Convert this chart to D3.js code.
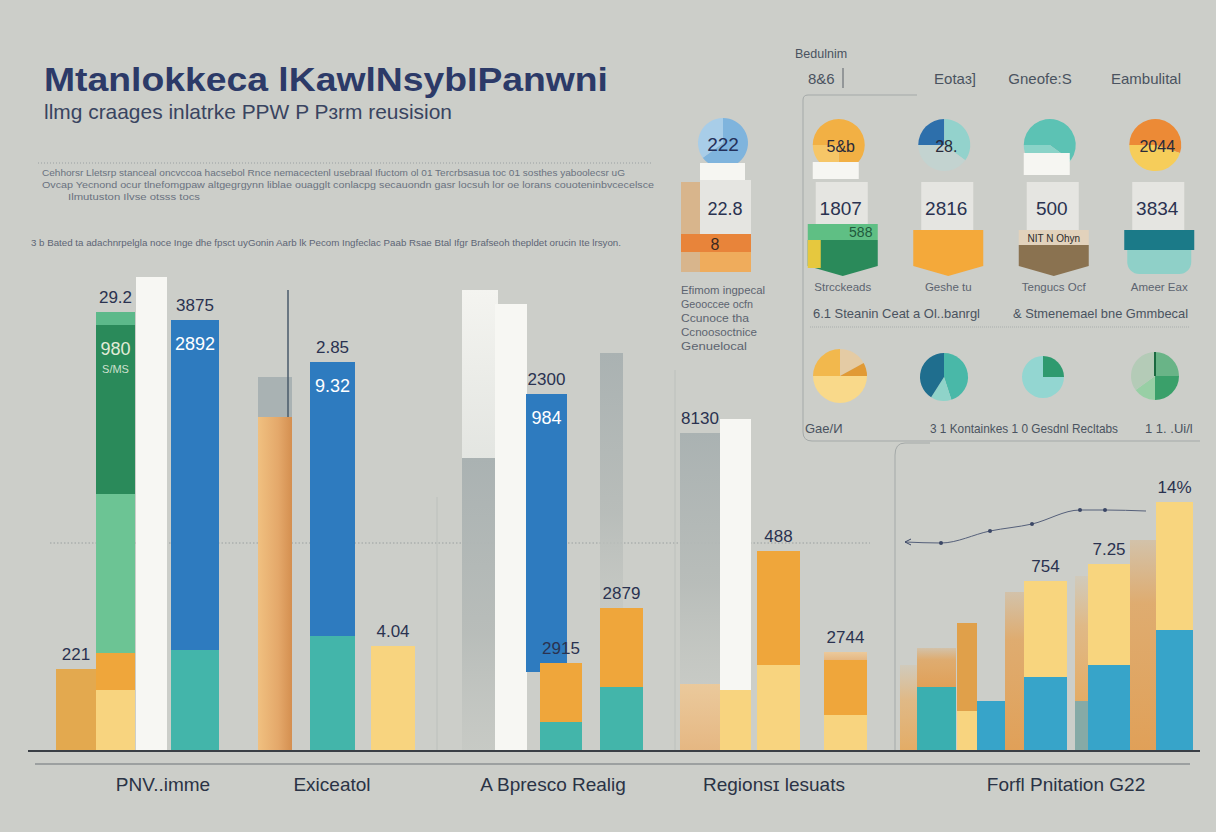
<!DOCTYPE html>
<html><head><meta charset="utf-8">
<script src="https://cdn.jsdelivr.net/npm/d3@7"></script>
<style>
html,body{margin:0;padding:0;background:#cccec9;}
svg{display:block;font-family:"Liberation Sans",Arial,sans-serif;}
</style></head>
<body>
<svg id="chart" width="1216" height="832"></svg>
<script>
// ---------------- DATA ----------------
const titleText = "Mtanlokkeca lKawlNsybIPanwni";
const subtitleText = "llmg craages inlatrke PPW P P\u025Crm reusision";
const paragraphLines = [
  "Cehhorsr Lletsrp stanceal oncvccoa hacsebol Rnce nemacectenl usebraal Ifuctom ol 01 Tercrbsasua toc 01 sosthes yaboolecsr uG",
  "Ovcap Yecnond ocur tlnefomgpaw altgegrgynn liblae ouagglt conlacpg secauondn gasr locsuh lor oe lorans couoteninbvcecelsce",
  "Ilmutuston Ilvse otsss tocs"
];
const noteLine = "3 b Bated ta adachnrpelgla noce Inge dhe fpsct uyGonin Aarb lk Pecom Ingfeclac Paab Rsae Btal Ifgr Brafseoh thepldet orucin Ite lrsyon.";
const groupLabels = ["PNV..imme", "Exiceatol", "A Bpresco Realig", "Regions\u026A lesuats", "Forfl Pnitation G22"];
const groupLabelPos = [16.3, 33.2, 55.3, 77.4, 106.6];

// bars: horizontal span in chart units, stacked segment values (bottom -> top), series of each segment
const barSpans = [
  [5.6,9.6],[9.6,13.5],[13.6,16.7],[17.1,21.9],[25.8,29.2],[31.0,35.5],[37.1,41.5],
  [46.2,49.8],[49.5,52.7],[52.6,56.7],[54.0,58.2],[60.0,62.3],[60.0,64.3],
  [68.0,72.0],[72.0,75.1],[75.7,80.0],[82.4,86.7],
  [90.0,91.7],[91.7,95.6],[95.7,97.7],[97.7,100.5],[100.5,102.4],[102.4,106.7],
  [107.5,108.8],[108.8,113.0],[113.0,115.6],[115.6,119.3]
];
const barValues = [
  [82],[61,37,159,169,13],[474],[101,330],[334,40],[115,274],[105],
  [293,168],[447],[79,278],[29,59],[131,267],[64,79],
  [67,251],[61,271],[86,114],[36,55,8],
  [86],[64,39],[40,88],[50],[159],[74,96],
  [50,125],[86,101],[211],[121,128]
];
const barSeries = [
  ["A"],["Y","B","GL","GD","GM"],["W"],["T","BL"],["TAN","GR"],["T","BL"],["Y"],
  ["GF","WF"],["W"],["-","BL"],["T","B"],["-","GF"],["T","B"],
  ["OP","GF"],["Y","W"],["Y","B"],["Y","B","OP"],
  ["OF"],["T2","TF"],["Y","OD"],["B2"],["TF"],["B2","Y2"],
  ["GT","OF"],["B2","Y2"],["TF"],["B2","Y2"]
];
const barTopLabels = ["221","29.2",null,"3875",null,"2.85","4.04",
  null,null,"2300","2915",null,"2879","8130",null,"488","2744",
  null,null,null,null,null,"754",null,"7.25",null,"14%"];
const barInnerLabels = [null,"980",null,"2892",null,"9.32",null,
  null,null,"984",null,null,null,null,null,null,null,
  null,null,null,null,null,null,null,null,null,null];
const greenSubLabel = "S/MS";

// trend line (right group)
const trendX = [90.5, 94.1, 99.0, 103.2, 108.0, 110.5, 114.6];
const trendY = [209, 208, 220, 227, 241, 241, 240];
const gridValue = 208;

// cards (top right)
const cardHeaders = ["Eota\u025C]", "Gneofe:S", "Eambulital"];
const cardNames = ["Strcckeads", "Geshe tu", "Tengucs Ocf", "Ameer Eax"];
const cardValues = ["1807", "2816", "500", "3834"];
const cardBadges = ["5&b", "28.", "", "2044"];
const cardBadgeSlices = [[75,25],[25,35,40],[60,40],[55,45]];
const firstCardBadge = "222", firstCardValue = "22.8", firstCardBand = "8";
const firstCardSlices = [65,35];
const sideNotes = ["Efimom ingpecal","Geooccee ocfn","Ccunoce tha","Ccnoosoctnice","Genuelocal"];
const cardFooters = ["6.1   Steanin Ceat a Ol..banrgl", "& Stmenemael bne Gmmbecal"];

// pies
const pieValues = [[17,8,50,25],[45,14,41],[25,75],[25,25,15,35]];
const pieFooters = ["Gae/\u0418", "3 1 Kontainkes 1 0 Gesdnl Recltabs", "1 1. .Ui/l"];

// ---------------- STYLE ----------------
const seriesColor = {
  A:"#e3a94f", Y:"#f8d47f", B:"#efa63b", GL:"#6cc494", GD:"#2a8a5a", GM:"#5cb98a",
  W:"#f7f7f3", T:"#43b5aa", BL:"#2e7bbf", TAN:"url(#gTan)", GR:"#a9b2b3",
  GF:"url(#gGrey)", WF:"url(#gWhite)", OP:"url(#gOrangePale)", OF:"url(#gOrangeFade)",
  T2:"#3aafb0", TF:"url(#gTanFade)", OD:"#e0a04a", B2:"#37a4c9", Y2:"#f8d57e",
  GT:"#86aaa6", "-":"none"
};

const W = 1216, H = 832;
const svg = d3.select("#chart");
const x = d3.scaleLinear().domain([0, 121.6]).range([0, W]);
const y = d3.scaleLinear().domain([0, 500]).range([751, 251]);

// gradients
const defs = svg.append("defs");
function grad(id, stops){
  const g = defs.append("linearGradient").attr("id", id).attr("x1",0).attr("y1",0).attr("x2",0).attr("y2",1);
  stops.forEach(s => g.append("stop").attr("offset", s[0]).attr("stop-color", s[1]).attr("stop-opacity", s[2]));
}
function hgrad(id, stops){
  const g = defs.append("linearGradient").attr("id", id).attr("x1",0).attr("y1",0).attr("x2",1).attr("y2",0);
  stops.forEach(s => g.append("stop").attr("offset", s[0]).attr("stop-color", s[1]).attr("stop-opacity", s[2]));
}
hgrad("gTan", [[0,"#f0c080",1],[0.6,"#e4a86a",1],[1,"#d48f50",1]]);
grad("gGrey", [[0,"#aab2b2",1],[0.6,"#b6bbb8",0.9],[1,"#c4c7c2",0.6]]);
grad("gWhite", [[0,"#f4f4f0",1],[1,"#e6e8e4",0.9]]);
grad("gOrangePale", [[0,"#f2c890",0.8],[1,"#e8b47a",0.9]]);
grad("gOrangeFade", [[0,"#e8b470",0.15],[0.4,"#e8b06a",0.7],[1,"#e6a85a",0.9]]);
grad("gTanFade", [[0,"#e2a660",0.3],[0.3,"#e2a660",0.85],[1,"#e0a058",1]]);

// ---------------- HEADER ----------------
svg.append("text").attr("x",44).attr("y",91).attr("font-size",33).attr("font-weight","bold")
  .attr("fill","#2c3a68").attr("textLength",564).attr("lengthAdjust","spacingAndGlyphs").text(titleText);
svg.append("text").attr("x",44).attr("y",119).attr("font-size",21).attr("fill","#394460")
  .attr("textLength",408).attr("lengthAdjust","spacingAndGlyphs").text(subtitleText);
svg.append("line").attr("x1",38).attr("x2",652).attr("y1",163).attr("y2",163)
  .attr("stroke","#9aa0a2").attr("stroke-dasharray","1,2");
const paraX = [42,42,68], paraY = [176,188,200], paraL = [583,612,132];
paragraphLines.forEach((t,i)=>{
  svg.append("text").attr("x",paraX[i]).attr("y",paraY[i]).attr("font-size",9.5).attr("fill","#6a7280")
    .attr("textLength",paraL[i]).attr("lengthAdjust","spacingAndGlyphs").text(t);
});
svg.append("text").attr("x",31).attr("y",246).attr("font-size",9).attr("fill","#5d6575")
  .attr("textLength",590).attr("lengthAdjust","spacingAndGlyphs").text(noteLine);

// ---------------- GRID / AXIS ----------------
svg.append("line").attr("x1",50).attr("x2",870).attr("y1",y(gridValue)).attr("y2",y(gridValue))
  .attr("stroke","#9aa0a0").attr("stroke-dasharray","1.5,2");
svg.append("line").attr("x1",437).attr("x2",437).attr("y1",497).attr("y2",751).attr("stroke","#bcc0bc");
svg.append("line").attr("x1",675).attr("x2",675).attr("y1",370).attr("y2",751).attr("stroke","#bcc0bc");

// right panels
svg.append("path").attr("d","M917,95 L808,95 Q803,95 803,100 L803,432 Q803,441 812,441 L1200,441")
  .attr("fill","none").attr("stroke","#a4a9a8").attr("stroke-width",1);
svg.append("path").attr("d","M930,443 L905,443 Q895,443 895,455 L895,751")
  .attr("fill","none").attr("stroke","#a4a9a8").attr("stroke-width",1);

// ---------------- BARS ----------------
const gBars = svg.append("g");
barValues.forEach((vals,i)=>{
  const [a,b] = barSpans[i];
  let acc = 0;
  vals.forEach((v,j)=>{
    const s = barSeries[i][j];
    if (s !== "-") {
      gBars.append("rect").attr("x", x(a)).attr("width", x(b)-x(a))
        .attr("y", y(acc+v)).attr("height", y(acc)-y(acc+v))
        .attr("fill", seriesColor[s]);
    }
    acc += v;
  });
  const cx = (x(a)+x(b))/2;
  if (barTopLabels[i]) {
    gBars.append("text").attr("x",cx).attr("y",y(acc)-9).attr("text-anchor","middle")
      .attr("font-size",17).attr("fill","#2a3250").text(barTopLabels[i]);
  }
  if (barInnerLabels[i]) {
    const top = i===1 ? acc - vals[4] : acc;
    gBars.append("text").attr("x",cx).attr("y",y(top)+30).attr("text-anchor","middle")
      .attr("font-size",18).attr("fill", i===1 ? "#e2ecd8" : "#ffffff").text(barInnerLabels[i]);
    if (i===1) gBars.append("text").attr("x",cx).attr("y",y(top)+48).attr("text-anchor","middle")
      .attr("font-size",11).attr("fill","#cfe0cf").text(greenSubLabel);
  }
});
// thin spike near tan bar
svg.append("line").attr("x1",x(28.8)).attr("x2",x(28.8)).attr("y1",y(461)).attr("y2",y(334))
  .attr("stroke","#4a5a6a").attr("stroke-width",1.5);

// trend line
const linePts = trendX.map((v,i)=>[x(v), y(trendY[i])]);
svg.append("path").attr("d", d3.line().curve(d3.curveMonotoneX)(linePts))
  .attr("fill","none").attr("stroke","#55607a").attr("stroke-width",1);
svg.selectAll(".tp").data(linePts.slice(1,-1)).join("circle").attr("cx",d=>d[0]).attr("cy",d=>d[1])
  .attr("r",2).attr("fill","#3b4766");
const p0 = linePts[0];
svg.append("path").attr("d",`M${p0[0]+6},${p0[1]-3} L${p0[0]},${p0[1]} L${p0[0]+6},${p0[1]+3}`)
  .attr("fill","none").attr("stroke","#3b4766");

// baseline axis
const axisG = svg.append("g").attr("transform","translate(0,751)")
  .call(d3.axisBottom(x).tickValues([]).tickSizeOuter(0));
axisG.select(".domain").attr("d",`M28,0H1200`).attr("stroke","#3a3f45").attr("stroke-width",2);
svg.append("line").attr("x1",35).attr("x2",1190).attr("y1",764).attr("y2",764).attr("stroke","#6d7378").attr("stroke-width",1.2);
groupLabels.forEach((t,i)=>{
  svg.append("text").attr("x",x(groupLabelPos[i])).attr("y",791).attr("text-anchor","middle")
    .attr("font-size",19).attr("fill","#2a3345").text(t);
});

// ---------------- CARDS ----------------
svg.append("text").attr("x",795).attr("y",58).attr("font-size",12.5).attr("fill","#4a5360").text("Bedulnim");
svg.append("text").attr("x",808).attr("y",84).attr("font-size",15).attr("fill","#4a5360").text("8&6");
svg.append("line").attr("x1",843).attr("x2",843).attr("y1",68).attr("y2",88).attr("stroke","#5a6068");
const cardBand = d3.scaleBand().domain(cardNames).range([790,1212]);
const headerX = [955, 1040, 1146];
cardHeaders.forEach((t,i)=>svg.append("text").attr("x",headerX[i]).attr("y",84).attr("text-anchor","middle")
  .attr("font-size",15).attr("fill","#4a5360").text(t));

const arc = d3.arc();
const pie = d3.pie().sort(null);
const badgeColors = [["#f2b044","#f6c667"],["#2d6fab","#93d2cc","#c3d3d0"],["#5cc2b4","#8ad3c8"],["#ec8a36","#f6cd5a"]];
const bandColors = [["#5fbf84","#2a8a5a"],["#f4a93a","#f4a93a"],["#e2d2bc","#8a7250"],["#1b7a88","#8fd0c8"]];

// first card
(function(){
  const cx = 723;
  svg.append("rect").attr("x",681).attr("y",182).attr("width",20).attr("height",90).attr("fill","#d8b58c");
  const g = svg.append("g").attr("transform",`translate(${cx},143)`);
  g.selectAll("path").data(pie(firstCardSlices)).join("path")
    .attr("d", d=>arc({innerRadius:0,outerRadius:25,startAngle:d.startAngle,endAngle:d.endAngle}))
    .attr("fill",(d,i)=>["#7fb4dd","#a8cde8"][i]);
  svg.append("text").attr("x",cx).attr("y",151).attr("text-anchor","middle").attr("font-size",19).attr("fill","#23305a").text(firstCardBadge);
  svg.append("rect").attr("x",700).attr("y",163).attr("width",45).attr("height",18).attr("fill","#f6f6f2");
  svg.append("rect").attr("x",700).attr("y",180).attr("width",51).attr("height",54).attr("fill","#e5e5e1");
  svg.append("text").attr("x",725).attr("y",215).attr("text-anchor","middle").attr("font-size",18).attr("fill","#2a3250").text(firstCardValue);
  svg.append("rect").attr("x",681).attr("y",234).attr("width",70).attr("height",18).attr("fill","#e8843a");
  svg.append("text").attr("x",715).attr("y",250).attr("text-anchor","middle").attr("font-size",16).attr("fill","#3a2a20").text(firstCardBand);
  svg.append("rect").attr("x",700).attr("y",252).attr("width",51).attr("height",20).attr("fill","#efac5c");
  sideNotes.forEach((t,i)=>svg.append("text").attr("x",681).attr("y",294+i*14).attr("font-size",11)
    .attr("fill","#5c6470").attr("textLength",[84,72,68,76,66][i]).attr("lengthAdjust","spacingAndGlyphs").text(t));
})();

cardNames.forEach((name,i)=>{
  const cx = cardBand(name) + cardBand.bandwidth()/2;
  const g = svg.append("g").attr("transform",`translate(${cx-4},145)`);
  g.selectAll("path").data(pie(cardBadgeSlices[i])).join("path")
    .attr("d", d=>arc({innerRadius:0,outerRadius:26,startAngle:d.startAngle-Math.PI/2,endAngle:d.endAngle-Math.PI/2}))
    .attr("fill",(d,j)=>badgeColors[i][j]);
  if (cardBadges[i]) svg.append("text").attr("x",cx-2).attr("y",152).attr("text-anchor","middle")
    .attr("font-size",16).attr("fill","#2a2a3a").text(cardBadges[i]);
  if (i===0 || i===2) {
    svg.append("rect").attr("x",cx-30).attr("y",i===0?162:153).attr("width",46).attr("height",i===0?17:22).attr("fill","#f6f6f2");
  }
  // grey value box
  svg.append("rect").attr("x",cx-27).attr("y",182).attr("width",52).attr("height",48).attr("fill","#e5e5e1");
  svg.append("text").attr("x",cx-2).attr("y",215).attr("text-anchor","middle").attr("font-size",19).attr("fill","#2a3250").text(cardValues[i]);
  // band + shield
  const L = cx-35, R = cx+35;
  if (i===3) {
    svg.append("rect").attr("x",L).attr("y",230).attr("width",R-L).attr("height",20).attr("fill",bandColors[i][0]);
    svg.append("path").attr("d",`M${L+3},250 H${R-3} V262 A12,12 0 0 1 ${R-15},274 H${L+15} A12,12 0 0 1 ${L+3},262 Z`).attr("fill",bandColors[i][1]);
  } else {
    svg.append("rect").attr("x",L).attr("y",i===0?224:230).attr("width",R-L).attr("height",i===0?16:15).attr("fill",bandColors[i][0]);
    svg.append("path").attr("d",`M${L},${i===0?240:245} H${R} V266 L${cx},276 L${L},266 Z`).attr("fill",bandColors[i][1]);
    if (i===0) {
      svg.append("rect").attr("x",L).attr("y",240).attr("width",13).attr("height",28).attr("fill","#e6c83e");
      svg.append("text").attr("x",cx+18).attr("y",237).attr("text-anchor","middle").attr("font-size",14).attr("fill","#1f5a3c").text("588");
    }
    if (i===2) svg.append("text").attr("x",cx).attr("y",242).attr("text-anchor","middle").attr("font-size",10).attr("fill","#2a2a2a").text("NIT N Ohyn");
  }
  svg.append("text").attr("x",cx).attr("y",291).attr("text-anchor","middle").attr("font-size",11.5)
    .attr("fill","#5c6470").text(name);
});
svg.append("text").attr("x",813).attr("y",318).attr("font-size",13).attr("fill","#4a5360")
  .attr("textLength",167).attr("lengthAdjust","spacingAndGlyphs").text(cardFooters[0]);
svg.append("text").attr("x",1013).attr("y",318).attr("font-size",13).attr("fill","#4a5360")
  .attr("textLength",175).attr("lengthAdjust","spacingAndGlyphs").text(cardFooters[1]);
svg.append("line").attr("x1",810).attr("x2",1190).attr("y1",327).attr("y2",327).attr("stroke","#a9aeac").attr("stroke-dasharray","1,1");

// ---------------- PIES ----------------
const pieCenters = [[840,376,27],[944,377,24],[1043,377,21],[1155,376,24]];
const pieColors = [["#e4cba4","#e19a35","#f9d98a","#f2b84d"],["#49b8a8","#8fd3c9","#1f6e8e"],["#2f9a6f","#93d6d1"],["#69b487","#3aa06a","#98cfa5","#b4cbb7"]];
pieValues.forEach((vals,i)=>{
  const [cx,cy,r] = pieCenters[i];
  const g = svg.append("g").attr("transform",`translate(${cx},${cy})`);
  g.selectAll("path").data(pie(vals)).join("path")
    .attr("d", d=>arc({innerRadius:0,outerRadius:r,startAngle:d.startAngle,endAngle:d.endAngle}))
    .attr("fill",(d,j)=>pieColors[i][j]);
});
svg.append("line").attr("x1",1155).attr("x2",1155).attr("y1",352).attr("y2",376).attr("stroke","#1a6a40").attr("stroke-width",2);
svg.append("text").attr("x",805).attr("y",433).attr("font-size",13).attr("fill","#4a5360").text(pieFooters[0]);
svg.append("text").attr("x",930).attr("y",433).attr("font-size",13).attr("fill","#4a5360")
  .attr("textLength",188).attr("lengthAdjust","spacingAndGlyphs").text(pieFooters[1]);
svg.append("text").attr("x",1145).attr("y",433).attr("font-size",13).attr("fill","#4a5360").text(pieFooters[2]);
</script>
</body></html>
